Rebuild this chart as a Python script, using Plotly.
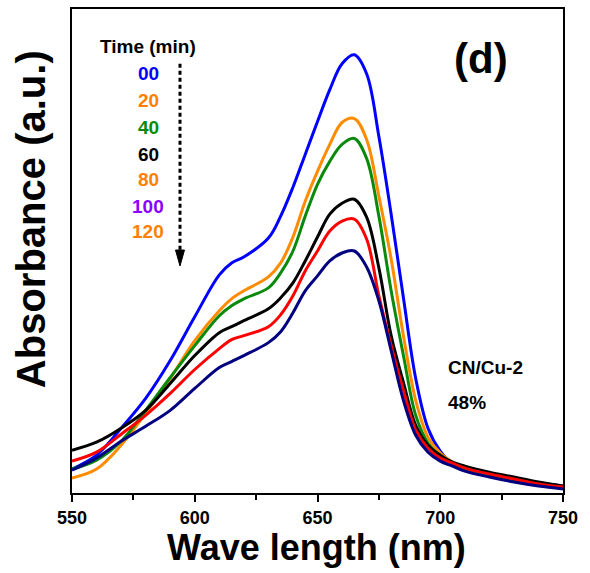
import plotly.graph_objects as go

wavelength = [550, 560, 570, 580, 590, 600, 610, 615, 620, 630, 635, 640, 645, 650, 655,
              660, 665, 670, 675, 680, 685, 690, 695, 700, 705, 710, 720, 730, 740, 750]

abs_00 = [0.24, 0.38, 0.65, 0.95, 1.33, 1.77, 2.19, 2.31, 2.37, 2.56, 2.78, 3.07, 3.40, 3.73, 4.05,
          4.31, 4.40, 4.21, 3.58, 2.80, 1.96, 1.15, 0.65, 0.42, 0.29, 0.23, 0.18, 0.14, 0.10, 0.07]
abs_20 = [0.15, 0.24, 0.48, 0.80, 1.15, 1.53, 1.83, 1.95, 2.03, 2.17, 2.31, 2.57, 2.93, 3.23, 3.50,
          3.72, 3.76, 3.55, 2.98, 2.35, 1.58, 0.93, 0.56, 0.40, 0.31, 0.24, 0.17, 0.12, 0.09, 0.07]
abs_40 = [0.24, 0.33, 0.52, 0.83, 1.16, 1.48, 1.78, 1.88, 1.95, 2.06, 2.21, 2.43, 2.78, 3.10, 3.33,
          3.50, 3.56, 3.36, 2.78, 2.03, 1.38, 0.78, 0.50, 0.37, 0.30, 0.23, 0.17, 0.12, 0.08, 0.06]
abs_60 = [0.43, 0.51, 0.65, 0.83, 1.10, 1.38, 1.61, 1.67, 1.73, 1.85, 1.96, 2.11, 2.33, 2.57, 2.80,
          2.91, 2.95, 2.77, 2.26, 1.58, 1.11, 0.68, 0.48, 0.38, 0.31, 0.27, 0.21, 0.16, 0.11, 0.07]
abs_80 = [0.32, 0.41, 0.59, 0.78, 1.00, 1.24, 1.45, 1.54, 1.58, 1.67, 1.79, 1.98, 2.23, 2.43, 2.63,
          2.73, 2.75, 2.55, 1.98, 1.48, 1.03, 0.63, 0.45, 0.35, 0.30, 0.25, 0.19, 0.14, 0.09, 0.06]
abs_120 = [0.23, 0.35, 0.52, 0.67, 0.83, 1.05, 1.26, 1.32, 1.38, 1.51, 1.62, 1.81, 2.03, 2.18, 2.33,
           2.41, 2.43, 2.27, 1.93, 1.43, 0.93, 0.58, 0.41, 0.32, 0.27, 0.22, 0.16, 0.11, 0.07, 0.04]

series = [
    ("00", abs_00, "#0000FF"),
    ("20", abs_20, "#FF8C00"),
    ("40", abs_40, "#0A8A0A"),
    ("60", abs_60, "#000000"),
    ("80", abs_80, "#FF0000"),
    ("120", abs_120, "#000080"),
]

legend_labels = ["00", "20", "40", "60", "80", "100", "120"]
legend_colors = ["#0000FF", "#FF8000", "#0A8A0A", "#000000", "#FF8000", "#8B00FF", "#FF8000"]

x_ticks = [550, 600, 650, 700, 750]

FONT = "Liberation Sans, Arial, sans-serif"

fig = go.Figure()
for name, vals, col in series:
    fig.add_trace(go.Scatter(x=wavelength, y=vals, mode="lines", name=name,
                             line=dict(color=col, width=3, shape="spline", smoothing=1.0)))

# paper coordinate helpers (plot area: 491 x 486 px)
def px(xp):
    return (xp - 72) / 491.0

def py(yp):
    return (493 - yp) / 486.0

def note(text, x, y, size, color="black", xanchor="center", angle=0):
    return dict(text=text, x=px(x), y=py(y), xref="paper", yref="paper",
                xanchor=xanchor, yanchor="middle", showarrow=False, textangle=angle,
                font=dict(size=size, color=color, family=FONT))

annotations = [note("<b>Time (min)</b>", 148, 45, 19)]
leg_y = [72, 99, 126, 153, 178, 205, 230]
for lab, col, yy in zip(legend_labels, legend_colors, leg_y):
    annotations.append(note("<b>%s</b>" % lab, 148, yy, 19, col))
annotations.append(note("<b>(d)</b>", 481, 57, 42))
annotations.append(note("<b>CN/Cu-2</b>", 446, 367, 19, xanchor="left"))
annotations.append(note("<b>48%</b>", 446, 402, 19, xanchor="left"))
annotations.append(note("<b>Wave length (nm)</b>", 316, 548, 36))
annotations.append(note("<b>Absorbance (a.u.)</b>", 31, 218, 40, angle=-90))

shapes = [
    dict(type="line", xref="paper", yref="paper", x0=px(180), x1=px(180), y0=py(62), y1=py(250),
         line=dict(color="black", width=3, dash="4px,3px")),
    dict(type="path", xref="paper", yref="paper",
         path="M %f,%f L %f,%f L %f,%f Z" % (px(175.5), py(249), px(184.5), py(249), px(180), py(265)),
         fillcolor="black", line=dict(color="black", width=1)),
]

fig.update_layout(
    width=590, height=573,
    margin=dict(l=72, r=27, t=7, b=80),
    paper_bgcolor="white", plot_bgcolor="white",
    showlegend=False,
    font=dict(family=FONT, color="black"),
    annotations=annotations,
    shapes=shapes,
)
fig.update_xaxes(range=[550, 750], tickvals=x_ticks, ticktext=["<b>%d</b>" % v for v in x_ticks],
                 ticks="outside", ticklen=7, tickwidth=2, tickcolor="black",
                 minor=dict(dtick=25, tick0=550, ticks="outside", ticklen=5, tickwidth=2, tickcolor="black"),
                 showline=True, linewidth=2, linecolor="black", mirror=True,
                 showgrid=False, zeroline=False, tickfont=dict(size=18, family=FONT, color="black"))
fig.update_yaxes(range=[0, 4.86], showticklabels=False, ticks="",
                 showline=True, linewidth=2, linecolor="black", mirror=True,
                 showgrid=False, zeroline=False)

fig.write_html("out.html")
